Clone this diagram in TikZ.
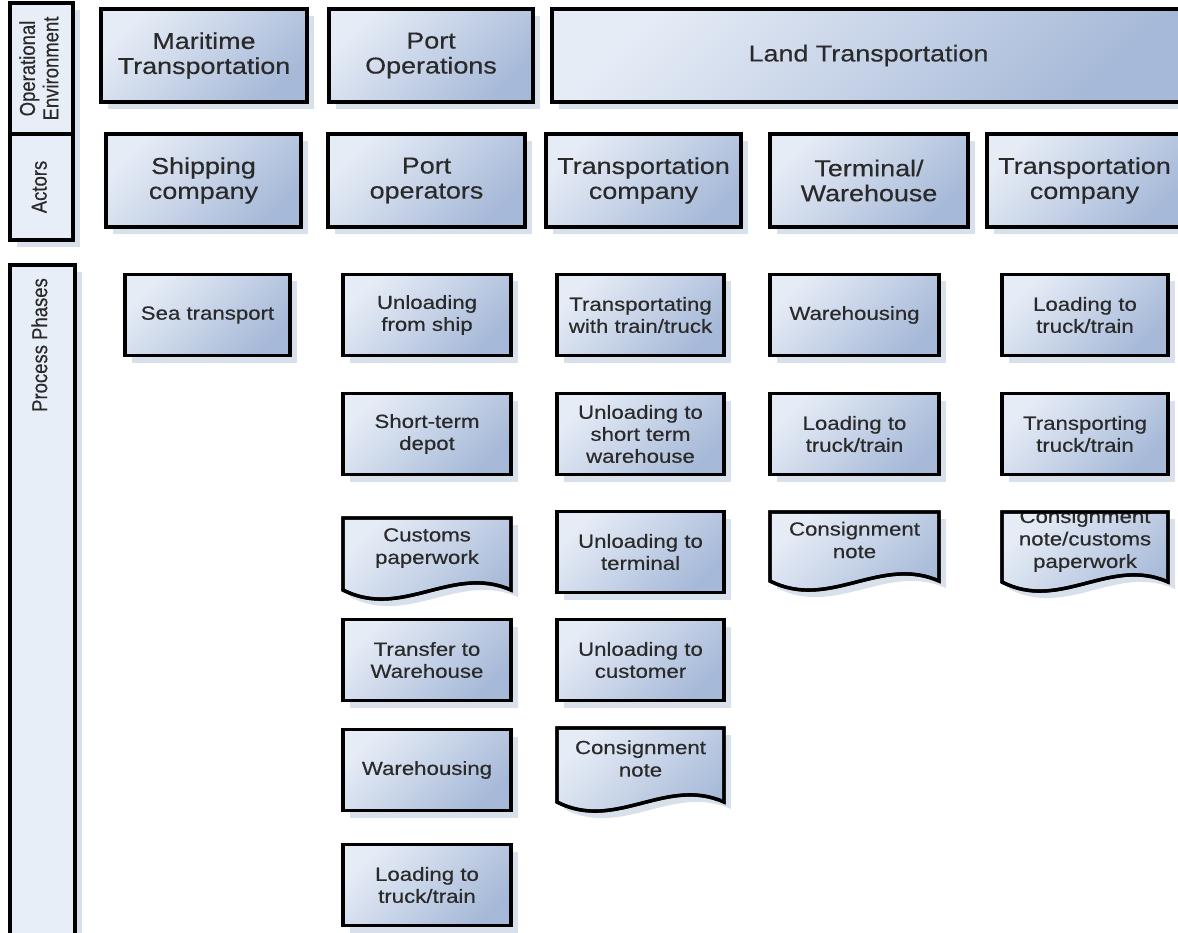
\documentclass[tikz,border=0pt]{standalone}
\usepackage{fontspec}
\setmainfont{Liberation Sans}[FakeStretch=1.17, FakeBold=0.4]
\newfontfamily\rotfont{Liberation Sans}[FakeBold=0.4]
\usetikzlibrary{shadows}
\definecolor{lightc}{HTML}{E6ECF6}
\definecolor{darkc}{HTML}{A6B9D8}
\definecolor{shadowc}{HTML}{D8E0EC}
\definecolor{labelfill}{HTML}{E8EEF7}
\definecolor{txt}{HTML}{2A2A2A}
\tikzset{
  shad/.style={drop shadow={shadow xshift=7pt, shadow yshift=-7pt, fill=shadowc, opacity=1}},
  base/.style={draw=black, line width=3.4pt, shad},
  grad/.style={left color=lightc, right color=darkc, shading angle=45},
  topbox/.style={base, grad, minimum width=#1, minimum height=93pt, inner sep=0pt, align=center, text=txt, font=\fontsize{23}{25}\selectfont},
  pbox/.style={base, grad, minimum width=#1, minimum height=81pt, inner sep=0pt, align=center, text=txt, font=\fontsize{19}{22}\selectfont},
  lbl/.style={base, fill=labelfill, rotate=90, inner sep=0pt, align=center, text=txt, font=\rotfont\fontsize{18.5}{22}\selectfont},
  doctext/.style={inner sep=0pt, align=center, text=txt, font=\fontsize{19}{22.5}\selectfont},
  docfill/.style={base, grad},
  docline/.style={draw=black, line width=3.4pt}
}
% vertical stretch of rotated label text (appears as horizontal stretch)
\newcommand\vstretch[1]{\scalebox{1}[1.17]{\begin{tabular}{@{}c@{}}#1\end{tabular}}}
% #1 x0, #2 y0, #3 width, #4 side height, #5 node name, #6 text centre y, #7 text
\newcommand\docbox[7]{%
  \path[docfill] (#1,#2) -- ({#1+#3},#2) -- ({#1+#3},{#2+#4}) .. controls ({#1+0.65*#3},{#2+#4-26}) and ({#1+0.35*#3},{#2+#4+30}) .. (#1,{#2+#4}) -- cycle;
  \begin{scope}
    \clip (#1,#2) -- ({#1+#3},#2) -- ({#1+#3},{#2+#4}) .. controls ({#1+0.65*#3},{#2+#4-26}) and ({#1+0.35*#3},{#2+#4+30}) .. (#1,{#2+#4}) -- cycle;
    \node[doctext] (#5) at ({#1+0.5*#3},#6) {#7};
  \end{scope}
  \path[docline] (#1,#2) -- ({#1+#3},#2) -- ({#1+#3},{#2+#4}) .. controls ({#1+0.65*#3},{#2+#4-26}) and ({#1+0.35*#3},{#2+#4+30}) .. (#1,{#2+#4}) -- cycle;
}
\begin{document}
\begin{tikzpicture}[x=1pt,y=-1pt]
\useasboundingbox (0,0) rectangle (1178,933);
\clip (0,0) rectangle (1178,933);
\fill[white] (0,0) rectangle (1178,933);

% left labels
\node[lbl, minimum width=131pt, minimum height=63pt] (oe) at (41.5,68.5) {\vstretch{Operational\\[-2pt]Environment}};
\node[lbl, minimum width=106pt, minimum height=63pt] (act) at (41.5,187) {\vstretch{Actors}};
\node[lbl, minimum width=680pt, minimum height=65pt] (pp) at (42.5,605) {};
\node[rotate=90, inner sep=0pt, text=txt, font=\rotfont\fontsize{18.5}{22}\selectfont] (pptext) at (42,345) {\vstretch{Process Phases}};

% operational environment
\node[topbox=206pt] (mar) at (204,55.5) {Maritime\\Transportation};
\node[topbox=204pt] (pop) at (431,55.5) {Port\\Operations};
\node[topbox=633pt] (land) at (868.5,55.5) {Land Transportation};

% actors
\node[topbox=195pt] (ship) at (203.5,180.5) {Shipping\\company};
\node[topbox=197pt] (pops) at (426.5,180.5) {Port\\operators};
\node[topbox=195pt] (tca) at (643.5,180.5) {Transportation\\company};
\node[topbox=198pt] (tw) at (869,180.5) {Terminal/\\Warehouse};
\node[topbox=195pt] (tcb) at (1084.5,180.5) {Transportation\\company};

% process phases
\node[pbox=165pt] (sea) at (207.5,315) {Sea transport};

\node[pbox=168pt] (p1) at (427,315) {Unloading\\from ship};
\node[pbox=168pt] (p2) at (427,434) {Short-term\\depot};
\docbox{343}{518}{168}{72}{p3}{548}{Customs\\paperwork}
\node[pbox=168pt] (p4) at (427,660) {Transfer to\\Warehouse};
\node[pbox=168pt] (p5) at (427,770) {Warehousing};
\node[pbox=168pt] (p6) at (427,885) {Loading to\\truck/train};

\node[pbox=167pt] (t1) at (640.5,315) {Transportating\\with train/truck};
\node[pbox=167pt] (t2) at (640.5,434) {Unloading to\\short term\\warehouse};
\node[pbox=167pt] (t3) at (640.5,552) {Unloading to\\terminal};
\node[pbox=167pt] (t4) at (640.5,660) {Unloading to\\customer};
\docbox{557}{728}{167}{74}{t5}{758.5}{Consignment\\note}

\node[pbox=169pt] (w1) at (854.5,315) {Warehousing};
\node[pbox=169pt] (w2) at (854.5,434) {Loading to\\truck/train};
\docbox{770}{512}{169}{69}{w3}{540}{Consignment\\note}

\node[pbox=166pt] (c1) at (1085,315) {Loading to\\truck/train};
\node[pbox=166pt] (c2) at (1085,434) {Transporting\\truck/train};
\docbox{1002}{512}{166}{70}{c3}{540.5}{Consignment\\note/customs\\paperwork}
\end{tikzpicture}
\end{document}
